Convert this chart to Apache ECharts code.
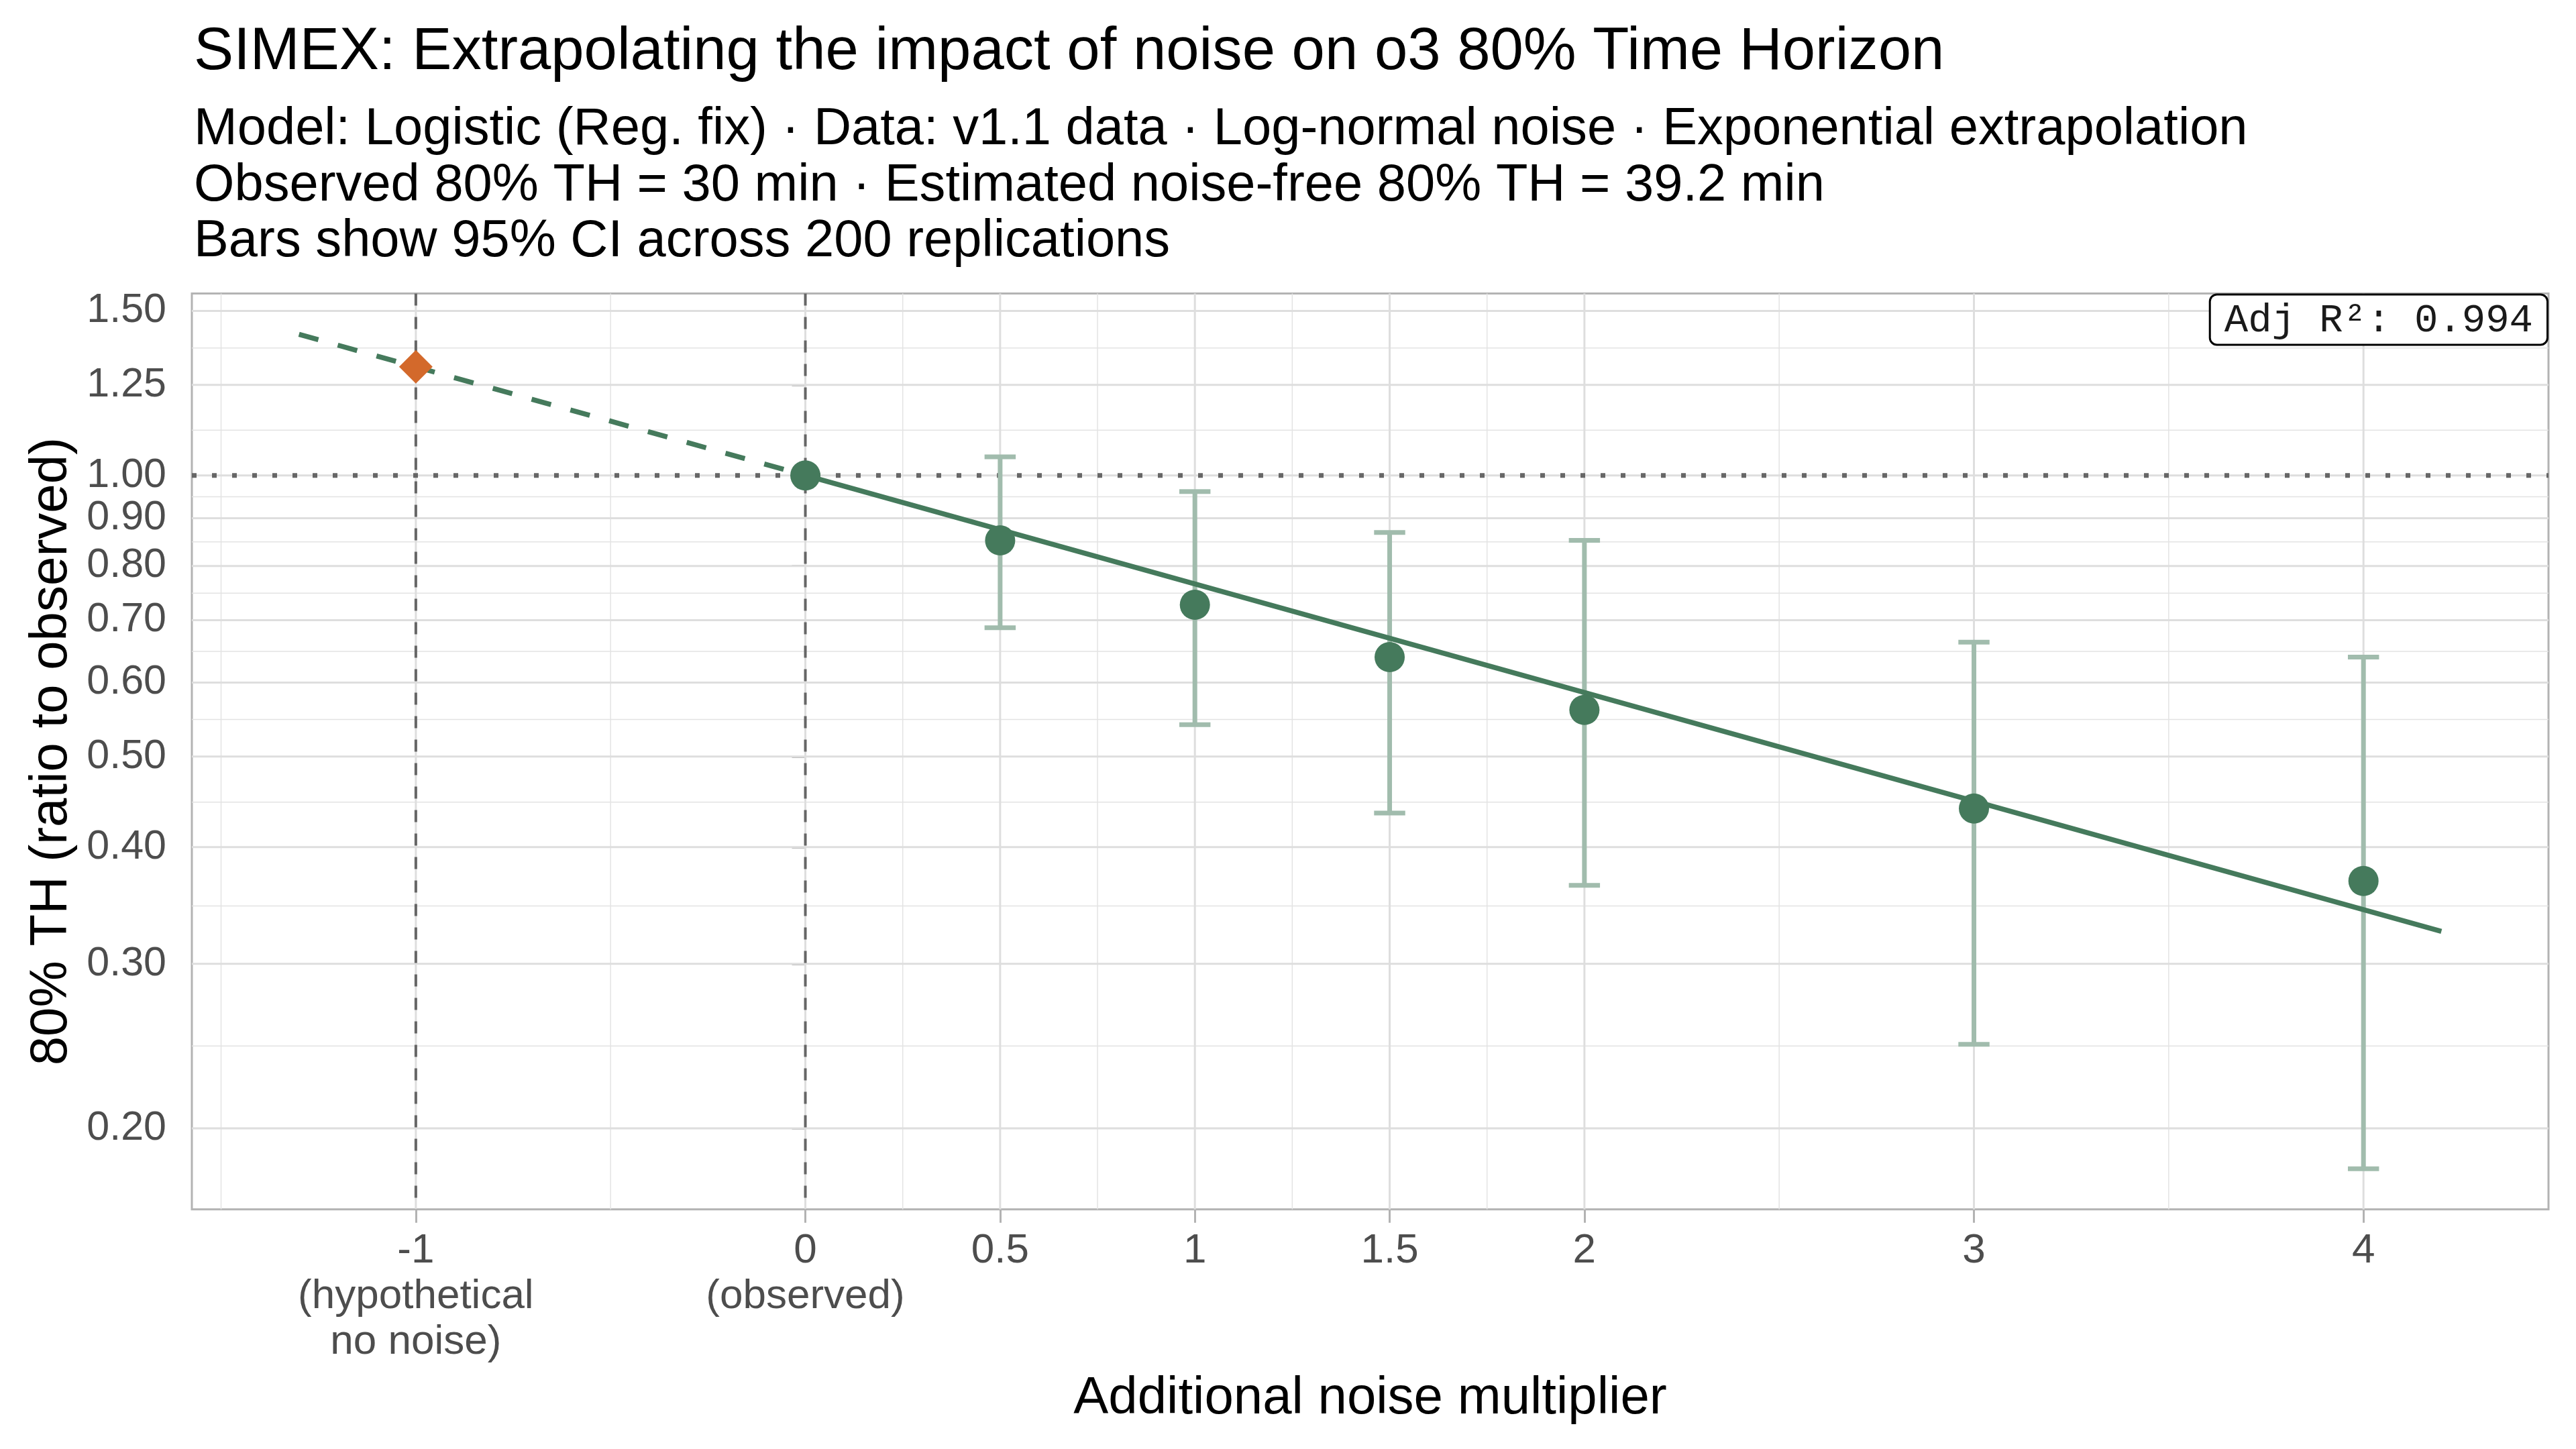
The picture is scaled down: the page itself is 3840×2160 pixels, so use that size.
<!DOCTYPE html>
<html>
<head>
<meta charset="utf-8">
<script src="https://cdn.jsdelivr.net/npm/echarts@6/dist/echarts.min.js"></script>
<style>
  html, body { margin: 0; padding: 0; background: #ffffff; }
  #chart { width: 3840px; height: 2160px; }
</style>
</head>
<body>
<div id="chart"></div>
<script>
// ---------------- data ----------------
const titleText = 'SIMEX: Extrapolating the impact of noise on o3 80% Time Horizon';
const subtitleLines = [
  'Model: Logistic (Reg. fix) \u00b7 Data: v1.1 data \u00b7 Log-normal noise \u00b7 Exponential extrapolation',
  'Observed 80% TH = 30 min \u00b7 Estimated noise-free 80% TH = 39.2 min',
  'Bars show 95% CI across 200 replications'
];
const xAxisTitle = 'Additional noise multiplier';
const yAxisTitle = '80% TH (ratio to observed)';
const annotationText = 'Adj R\u00b2: 0.994';

const xTickValues = [-1, 0, 0.5, 1, 1.5, 2, 3, 4];
const xTickLabels = ['-1\n(hypothetical\nno noise)', '0\n(observed)', '0.5', '1', '1.5', '2', '3', '4'];
const xMinorGrid = [-1.5, -0.5, 0.25, 0.75, 1.25, 1.75, 2.5, 3.5];

const yTickValues = [0.2, 0.3, 0.4, 0.5, 0.6, 0.7, 0.8, 0.9, 1.0, 1.25, 1.5];
const yTickLabels = ['0.20', '0.30', '0.40', '0.50', '0.60', '0.70', '0.80', '0.90', '1.00', '1.25', '1.50'];
const yMinorGrid = [0.245, 0.346, 0.447, 0.548, 0.648, 0.748, 0.849, 0.949, 1.118, 1.369];

const noiseLevels = [0, 0.5, 1, 1.5, 2, 3, 4];
const ratioMean   = [1.000, 0.852, 0.727, 0.639, 0.561, 0.440, 0.368];
const ciLower     = [null, 0.687, 0.541, 0.435, 0.364, 0.246, 0.181];
const ciUpper     = [null, 1.047, 0.961, 0.869, 0.852, 0.663, 0.639];

const extrapolatedX = [-1];
const extrapolatedY = [1.307];

const fitExtrapX = [-1.3, 0];
const fitExtrapY = [1.416, 1.0];
const fitObsX = [0, 4.2];
const fitObsY = [1.0, 0.325];

const refVLines = [-1, 0];
const refHLines = [1.0];

const xRange = [-1.575, 4.475];
const yRange = [0.1638, 1.566];

// ---------------- styles ----------------
const GREEN = '#457a5c';
const GREEN_LIGHT = '#a1bcad';
const ORANGE = '#d3692b';
const FONT = 'Liberation Sans';

function zip(xs, ys) { return xs.map((x, i) => [x, ys[i]]); }
function lookupLabel(values, labels, v, digits) {
  for (let i = 0; i < values.length; i++) {
    if (Math.abs(values[i] - v) < 1e-6) return labels[i];
  }
  return Number(v).toFixed(digits);
}

function vLineSeries(values, style, z) {
  return {
    type: 'custom', z: z, silent: true, clip: false,
    data: values.map(v => [v, 1]),
    renderItem: function (params, api) {
      const cs = params.coordSys;
      const x = api.coord([api.value(0), 1])[0];
      return { type: 'line', shape: { x1: x, y1: cs.y, x2: x, y2: cs.y + cs.height }, style: Object.assign({}, style) };
    }
  };
}
function hLineSeries(values, style, z) {
  return {
    type: 'custom', z: z, silent: true, clip: false,
    data: values.map(v => [0, v]),
    renderItem: function (params, api) {
      const cs = params.coordSys;
      const y = api.coord([0, api.value(1)])[1];
      return { type: 'line', shape: { x1: cs.x, y1: y, x2: cs.x + cs.width, y2: y }, style: Object.assign({}, style) };
    }
  };
}

const majorGrid = { stroke: '#dedede', lineWidth: 3 };
const minorGrid = { stroke: '#e3e3e3', lineWidth: 1.5 };

const errorData = [];
noiseLevels.forEach((x, i) => {
  if (ciLower[i] != null && ciUpper[i] != null) errorData.push([x, ciLower[i], ciUpper[i]]);
});

const chart = echarts.init(document.getElementById('chart'), null, { renderer: 'canvas', width: 3840, height: 2160 });

const option = {
  backgroundColor: '#ffffff',
  animation: false,
  textStyle: { fontFamily: FONT },
  title: [
    {
      text: titleText, left: 289, top: 35, padding: 0,
      textStyle: { fontFamily: FONT, fontSize: 88.7, fontWeight: 'normal', color: '#000000', lineHeight: 88 }
    },
    {
      text: subtitleLines.join('\n'), left: 289, top: 152, padding: 0,
      textStyle: { fontFamily: FONT, fontSize: 77.7, fontWeight: 'normal', color: '#000000', lineHeight: 83.5 }
    }
  ],
  grid: {
    left: 286, right: 41, top: 437.5, bottom: 357.3,
    containLabel: false, outerBoundsMode: 'none',
    show: true, borderColor: '#b3b3b3', borderWidth: 3, backgroundColor: '#ffffff'
  },
  xAxis: {
    type: 'value', min: xRange[0], max: xRange[1],
    axisLine: { show: false },
    splitLine: { show: false },
    axisTick: { show: true, customValues: xTickValues, length: 20, lineStyle: { color: '#b3b3b3', width: 3 } },
    axisLabel: {
      customValues: xTickValues, margin: 28, fontSize: 62, lineHeight: 68, color: '#4d4d4d', fontFamily: FONT,
      align: 'center',
      formatter: v => lookupLabel(xTickValues, xTickLabels, v, 1)
    },
    name: xAxisTitle, nameLocation: 'middle', nameGap: 244,
    nameTextStyle: { fontSize: 78, color: '#000000', fontFamily: FONT, lineHeight: 78 }
  },
  yAxis: {
    type: 'log', logBase: 10, min: yRange[0], max: yRange[1],
    axisLine: { show: false },
    splitLine: { show: false },
    minorSplitLine: { show: false },
    axisTick: { show: true, customValues: yTickValues, length: 20, lineStyle: { color: '#b3b3b3', width: 3 } },
    axisLabel: {
      customValues: yTickValues, margin: 38, fontSize: 61, color: '#4d4d4d', fontFamily: FONT,
      formatter: v => lookupLabel(yTickValues, yTickLabels, v, 2)
    },
    name: yAxisTitle, nameLocation: 'middle', nameGap: 170, nameRotate: 90,
    nameTextStyle: { fontSize: 78, color: '#000000', fontFamily: FONT, lineHeight: 78 }
  },
  graphic: [
    {
      type: 'text', right: 41, top: 437.5, z: 100,
      style: {
        text: annotationText,
        font: '59px "Liberation Mono"',
        fill: '#1a1a1a',
        backgroundColor: '#ffffff',
        borderColor: '#000000', borderWidth: 3, borderRadius: 9,
        padding: [8, 20, 5, 20]
      }
    }
  ],
  series: [
    vLineSeries(xMinorGrid, minorGrid, 1),
    hLineSeries(yMinorGrid, minorGrid, 1),
    vLineSeries(xTickValues, majorGrid, 2),
    hLineSeries(yTickValues, majorGrid, 2),
    vLineSeries(refVLines, { stroke: '#666666', lineWidth: 4, lineDash: [18, 17] }, 3),
    hLineSeries(refHLines, { stroke: '#666666', lineWidth: 7, lineDash: [7, 23] }, 3),
    {
      type: 'custom', z: 4, silent: true, clip: false,
      data: errorData,
      renderItem: function (params, api) {
        const x = api.value(0), lo = api.value(1), hi = api.value(2);
        const pLo = api.coord([x, lo]);
        const pHi = api.coord([x, hi]);
        const xl = api.coord([x - 0.04, lo])[0];
        const xr = api.coord([x + 0.04, lo])[0];
        const st = { stroke: GREEN_LIGHT, lineWidth: 7 };
        return {
          type: 'group',
          children: [
            { type: 'line', shape: { x1: pLo[0], y1: pLo[1], x2: pHi[0], y2: pHi[1] }, style: Object.assign({}, st) },
            { type: 'line', shape: { x1: xl, y1: pHi[1], x2: xr, y2: pHi[1] }, style: Object.assign({}, st) },
            { type: 'line', shape: { x1: xl, y1: pLo[1], x2: xr, y2: pLo[1] }, style: Object.assign({}, st) }
          ]
        };
      }
    },
    {
      type: 'line', z: 5, silent: true, symbol: 'none',
      data: zip(fitExtrapX, fitExtrapY),
      lineStyle: { color: GREEN, width: 7.5, type: [30, 30], cap: 'butt' }
    },
    {
      type: 'line', z: 5, silent: true, symbol: 'none',
      data: zip(fitObsX, fitObsY),
      lineStyle: { color: GREEN, width: 7.5, type: 'solid' }
    },
    {
      type: 'scatter', z: 6, silent: true,
      data: zip(noiseLevels, ratioMean),
      symbol: 'circle', symbolSize: 45,
      itemStyle: { color: GREEN, opacity: 1 }
    },
    {
      type: 'scatter', z: 7, silent: true,
      data: zip(extrapolatedX, extrapolatedY),
      symbol: 'diamond', symbolSize: [50, 50],
      itemStyle: { color: ORANGE, opacity: 1 }
    }
  ]
};
chart.setOption(option);
</script>
</body>
</html>
